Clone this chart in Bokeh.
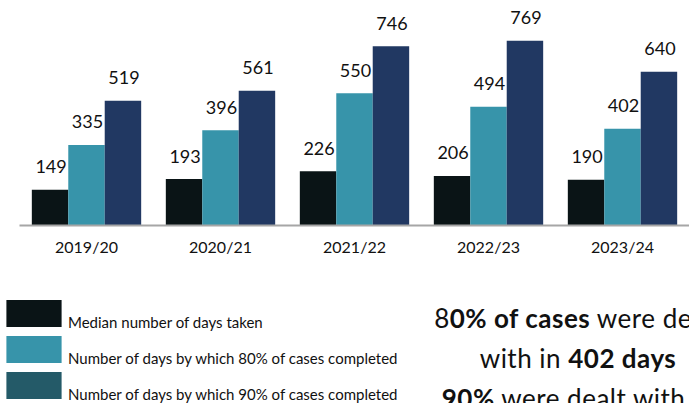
from bokeh.plotting import figure
from bokeh.models import (ColumnDataSource, FactorRange, Range1d, LabelSet, Legend,
                          LegendItem, Div)
from bokeh.transform import dodge
from bokeh.layouts import column, row
from bokeh.core.properties import value
from bokeh.embed import file_html
from bokeh.resources import INLINE

# ---- data ----
years = ["2019/20", "2020/21", "2021/22", "2022/23", "2023/24"]
median_days = [149, 193, 226, 206, 190]
days_80 = [335, 396, 550, 494, 402]
days_90 = [519, 561, 746, 769, 640]
series_labels = ["Median number of days taken",
                 "Number of days by which 80% of cases completed",
                 "Number of days by which 90% of cases completed"]

FONT = "Lato"
C_DARK = "#0a1416"
C_TEAL = "#3794aa"
C_NAVY = "#213862"
C_LEG3 = "#245a68"

src = ColumnDataSource(dict(year=years, med=median_days, p80=days_80, p90=days_90,
                            med_s=[str(v) for v in median_days],
                            p80_s=[str(v) for v in days_80],
                            p90_s=[str(v) for v in days_90]))

p = figure(x_range=FactorRange(*years), y_range=Range1d(0, 936),
           width=689, height=270, output_backend="svg", toolbar_location=None,
           y_axis_location=None, min_border_left=19, min_border_right=0,
           min_border_top=0, min_border_bottom=45)
p.outline_line_color = None
p.grid.visible = False
p.x_range.range_padding = 0

bw = 0.272
specs = [("med", "med_s", -bw, C_DARK), ("p80", "p80_s", 0.0, C_TEAL), ("p90", "p90_s", bw, C_NAVY)]
for col, scol, off, colr in specs:
    p.vbar(x=dodge("year", off, range=p.x_range), top=col, width=bw, source=src,
           fill_color=colr, line_color=None)
    p.add_layout(LabelSet(x=dodge("year", off, range=p.x_range), y=col, text=scol,
                          source=src, x_offset=1, y_offset=23, text_align="center",
                          text_baseline="middle", text_font=value(FONT),
                          text_font_size="18px", text_color="#111111"))

ax = p.xaxis[0]
ax.axis_line_color = "#a6a6a6"
ax.axis_line_width = 2
ax.major_tick_line_color = None
ax.minor_tick_line_color = None
ax.major_tick_out = 0
ax.major_label_standoff = 11
ax.major_label_text_font = FONT
ax.major_label_text_font_size = "16px"
ax.major_label_text_color = "#111111"

# ---- legend area ----
pl = figure(x_range=Range1d(0, 420), y_range=Range1d(0, 133), width=420, height=133,
            output_backend="svg", toolbar_location=None,
            x_axis_location=None, y_axis_location=None,
            min_border_left=0, min_border_right=0, min_border_top=0, min_border_bottom=0)
pl.outline_line_color = None
pl.grid.visible = False
items = []
for lab, colr in zip(series_labels, [C_DARK, C_TEAL, C_LEG3]):
    # legend-only renderer: a single zero-height bar, invisible in the plot
    r = pl.vbar(x=[0], top=[0], width=0, fill_color=colr, line_color=None)
    items.append(LegendItem(label=value("\n" + lab), renderers=[r]))
leg = Legend(items=items, location=(-1, 0), padding=0, margin=0, spacing=0,
             glyph_width=69, glyph_height=34, label_standoff=0,
             label_text_font=FONT, label_text_font_size="15px",
             label_text_line_height=1.0,
             label_text_color="#111111",
             border_line_color=None, background_fill_alpha=0)
pl.add_layout(leg, "center")

html = ('<div style="width:316px;text-align:center;font-family:Lato;font-size:26px;'
        'line-height:40px;padding-top:28px;color:#111111;white-space:nowrap;letter-spacing:0.5px;">'
        '8<b>0% of cases</b> were dealt<br>with in <b>402 days</b><br>'
        '<b>90%</b> were dealt with in</div>')
div = Div(text=html, width=269, height=133, styles={"overflow": "hidden", "margin": "0"})

layout = column(p, row(pl, div, spacing=0), spacing=0)
open("out.html", "w").write(file_html(layout, INLINE))
